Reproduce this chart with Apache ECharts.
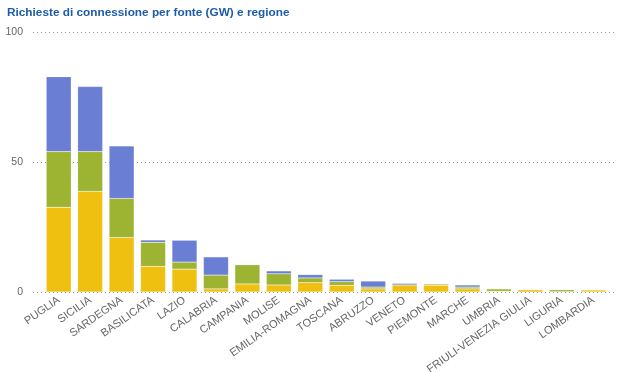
<!DOCTYPE html>
<html><head><meta charset="utf-8">
<script src="https://cdn.jsdelivr.net/npm/echarts@6/dist/echarts.min.js"></script>
<style>html,body{margin:0;padding:0;background:#fff}#c{width:619px;height:372px}</style>
</head><body><div id="c"></div>
<script>
const title = 'Richieste di connessione per fonte (GW) e regione';
const regions = ['PUGLIA','SICILIA','SARDEGNA','BASILICATA','LAZIO','CALABRIA','CAMPANIA','MOLISE','EMILIA-ROMAGNA','TOSCANA','ABRUZZO','VENETO','PIEMONTE','MARCHE','UMBRIA','FRIULI-VENEZIA GIULIA','LIGURIA','LOMBARDIA'];
const yellowVals = [32.6,38.7,21.0,9.9,8.8,1.2,3.1,2.7,3.6,2.6,1.2,2.7,2.6,1.2,0.3,0.9,0.1,0.8];
const greenVals  = [21.4,15.3,15.0,9.2,2.7,5.3,7.4,4.3,1.8,1.4,0.7,0.0,0.5,0.7,0.9,0.0,0.8,0.0];
const blueVals   = [28.8,25.0,20.2,0.9,8.4,7.0,0.0,1.1,1.3,0.9,2.3,0.6,0.0,0.8,0.0,0.0,0.0,0.0];
const yTicks = [0,50,100];

const chart = echarts.init(document.getElementById('c'), null, {renderer:'canvas'});
const barStyle = c => ({color:c, borderColor:'rgba(255,255,255,0.3)', borderWidth:0.5});
chart.setOption({
  animation:false,
  title:{text:title,left:2,top:2,textStyle:{fontFamily:'Liberation Sans',fontSize:11.8,fontWeight:'bold',color:'#1d5ca8'}},
  grid:[
    {left:33,right:4,top:32,bottom:80,outerBoundsMode:'none',containLabel:false},
    {left:43,right:10,top:32,bottom:80,outerBoundsMode:'none',containLabel:false}
  ],
  xAxis:[
    {gridIndex:0,type:'value',show:false,min:0,max:1},
    {gridIndex:1,type:'category',data:regions,
     axisLine:{show:false},axisTick:{show:false},
     axisLabel:{rotate:35,interval:0,margin:7,fontFamily:'Liberation Sans',fontSize:11,color:'#666'}}
  ],
  yAxis:[
    {gridIndex:0,type:'value',min:yTicks[0],max:yTicks[yTicks.length-1],interval:50,
     axisLine:{show:false},axisTick:{show:false},
     axisLabel:{margin:10,fontFamily:'Liberation Sans',fontSize:10.5,color:'#666'},
     splitLine:{show:true,lineStyle:{type:[1,3],color:'#999',width:1}}},
    {gridIndex:1,type:'value',min:0,max:100,show:false,splitLine:{show:false}}
  ],
  series:[
    {type:'bar',name:'giallo',xAxisIndex:1,yAxisIndex:1,stack:'s',data:yellowVals,barWidth:25,itemStyle:barStyle('#f0c010')},
    {type:'bar',name:'verde',xAxisIndex:1,yAxisIndex:1,stack:'s',data:greenVals,barWidth:25,itemStyle:barStyle('#9db332')},
    {type:'bar',name:'blu',xAxisIndex:1,yAxisIndex:1,stack:'s',data:blueVals,barWidth:25,itemStyle:barStyle('#6a7fd3')}
  ]
});
</script></body></html>
